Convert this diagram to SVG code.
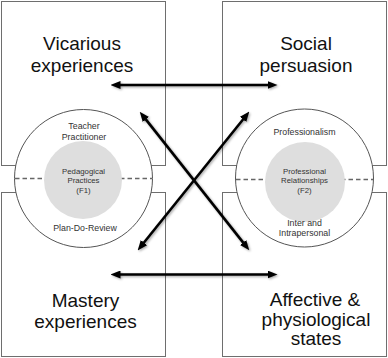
<svg xmlns="http://www.w3.org/2000/svg" width="388" height="358" viewBox="0 0 388 358">
<style>
.box{fill:#fff;stroke:#6e6e6e;stroke-width:1}
.ring{fill:#fff;stroke:#555;stroke-width:1}
.core{fill:#dedede;stroke:none}
.dash{stroke:#666;stroke-width:1.6;stroke-dasharray:4.5 3;fill:none}
.big{font-family:"Liberation Sans",Arial,sans-serif;font-size:19px;fill:#111;text-anchor:middle}
.small{font-family:"Liberation Sans",Arial,sans-serif;font-size:8.8px;fill:#333;text-anchor:middle}
.tiny{font-family:"Liberation Sans",Arial,sans-serif;font-size:7.8px;fill:#333;text-anchor:middle}
.arr{stroke:#000;stroke-width:2.6;fill:none;marker-start:url(#ah);marker-end:url(#ah)}
</style>
<defs>
<marker id="ah" markerUnits="userSpaceOnUse" markerWidth="10" markerHeight="8" refX="0.5" refY="4" orient="auto-start-reverse" viewBox="0 0 10 8">
<path d="M0,0 L10,4 L0,8 z" fill="#000"/>
</marker>
<filter id="sh" filterUnits="userSpaceOnUse" x="0" y="0" width="388" height="358">
<feDropShadow dx="1.2" dy="1.2" stdDeviation="1" flood-color="#000" flood-opacity="0.35"/>
</filter>
</defs>
<g id="box-vicarious">
<rect class="box" x="1.5" y="1.5" width="164" height="164"/>
<text class="big" x="82" y="50">Vicarious</text>
<text class="big" x="82" y="71.5">experiences</text>
</g>
<g id="box-social">
<rect class="box" x="222.5" y="1.5" width="164" height="164"/>
<text class="big" x="306" y="50">Social</text>
<text class="big" x="306" y="71.5">persuasion</text>
</g>
<g id="box-mastery">
<rect class="box" x="1.5" y="192.5" width="164" height="164"/>
<text class="big" x="85.5" y="306.5">Mastery</text>
<text class="big" x="85.5" y="328">experiences</text>
</g>
<g id="box-affective">
<rect class="box" x="222.5" y="192.5" width="164" height="164"/>
<text class="big" x="315" y="306">Affective &amp;</text>
<text class="big" x="316" y="325.5">physiological</text>
<text class="big" x="316" y="345">states</text>
</g>
<g id="circle-f1">
<circle class="ring" cx="83.5" cy="178.5" r="69"/>
<line class="dash" x1="15" y1="178.5" x2="152" y2="178.5"/>
<circle class="core" cx="83" cy="180" r="39"/>
<text class="small" x="84" y="129">Teacher</text>
<text class="small" x="84" y="139.5">Practitioner</text>
<text class="tiny" x="83.5" y="173.5">Pedagogical</text>
<text class="tiny" x="83.5" y="183">Practices</text>
<text class="tiny" x="83.5" y="192.5">(F1)</text>
<text class="small" x="85" y="231">Plan-Do-Review</text>
</g>
<g id="circle-f2">
<circle class="ring" cx="304.5" cy="178" r="69"/>
<line class="dash" x1="236" y1="179.5" x2="373" y2="179.5"/>
<circle class="core" cx="305" cy="182" r="40"/>
<text class="small" x="304.5" y="134.5">Professionalism</text>
<text class="tiny" x="304.5" y="173.5">Professional</text>
<text class="tiny" x="304.5" y="183">Relationships</text>
<text class="tiny" x="304.5" y="192.5">(F2)</text>
<text class="small" x="304.5" y="226">Inter and</text>
<text class="small" x="304.5" y="236">Intrapersonal</text>
</g>
<g id="connectors" filter="url(#sh)">
<line class="arr" x1="120" y1="85" x2="268" y2="85"/>
<line class="arr" x1="120" y1="274.5" x2="268" y2="274.5"/>
<line class="arr" x1="145.6" y1="119.1" x2="243.4" y2="242.9"/>
<line class="arr" x1="243.4" y1="119" x2="143.6" y2="243"/>
</g>
</svg>
